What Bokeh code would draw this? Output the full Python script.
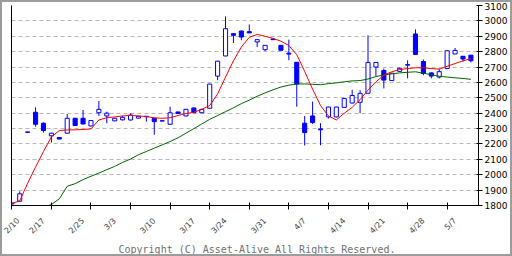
import math
from bokeh.plotting import figure
from bokeh.models import ColumnDataSource, LinearAxis, FixedTicker, Range1d, Title
from bokeh.layouts import column
from bokeh.embed import file_html
from bokeh.resources import INLINE

dates = ["2/10", "2/12", "2/13", "2/14", "2/17", "2/18", "2/19", "2/20", "2/21",
         "2/25", "2/26", "2/27", "2/28", "3/3", "3/4", "3/5", "3/6", "3/7",
         "3/10", "3/11", "3/12", "3/13", "3/14", "3/17", "3/18", "3/19", "3/21",
         "3/24", "3/25", "3/26", "3/27", "3/28", "3/31", "4/1", "4/2", "4/3", "4/4",
         "4/7", "4/8", "4/9", "4/10", "4/11", "4/14", "4/15", "4/16", "4/17", "4/18",
         "4/21", "4/22", "4/23", "4/24", "4/25", "4/28", "4/30", "5/1", "5/2",
         "5/7", "5/8", "5/9"]

opens = [1816, 1828, 2278, 2406, 2335, 2253, 2242, 2270, 2367, 2367,
         2317, 2403, 2382, 2350, 2357, 2356, 2368, 2380, 2367, 2351,
         2328, 2408, 2382, 2434, 2403, 2432, 2641, 2772, 2917, 2934,
         2930, 2863, 2813, 2882, 2841, 2790, 2731, 2335, 2382, 2298,
         2376, 2376, 2438, 2466, 2471, 2530, 2700, 2678, 2612, 2672,
         2712, 2915, 2736, 2662, 2635, 2690, 2785, 2770, 2777]
highs = [1818, 1892, 2280, 2438, 2340, 2272, 2244, 2395, 2370, 2421,
         2355, 2479, 2410, 2370, 2384, 2400, 2382, 2382, 2370, 2352,
         2442, 2410, 2428, 2436, 2428, 2592, 2740, 3029, 2920, 2938,
         2977, 2880, 2843, 2884, 2843, 2878, 2733, 2382, 2475, 2335,
         2442, 2442, 2498, 2552, 2550, 2906, 2732, 2690, 2662, 2695,
         2744, 2945, 2749, 2665, 2690, 2808, 2824, 2772, 2779]
lows = [1808, 1826, 2274, 2313, 2274, 2209, 2230, 2268, 2318, 2327,
        2315, 2382, 2335, 2348, 2352, 2352, 2366, 2345, 2260, 2348,
        2326, 2396, 2380, 2400, 2400, 2430, 2615, 2770, 2856, 2874,
        2920, 2830, 2804, 2876, 2807, 2744, 2442, 2190, 2330, 2192,
        2365, 2374, 2436, 2464, 2400, 2528, 2640, 2561, 2610, 2668,
        2626, 2780, 2647, 2626, 2626, 2688, 2783, 2735, 2730]
closes = [1810, 1876, 2276, 2328, 2287, 2270, 2232, 2367, 2320, 2330,
          2352, 2425, 2400, 2367, 2373, 2388, 2380, 2377, 2345, 2349,
          2403, 2398, 2425, 2403, 2425, 2589, 2738, 2949, 2906, 2895,
          2922, 2878, 2841, 2878, 2809, 2784, 2589, 2274, 2339, 2292,
          2440, 2440, 2496, 2515, 2529, 2730, 2730, 2615, 2660, 2692,
          2716, 2782, 2658, 2641, 2670, 2806, 2808, 2752, 2741]

ma_short = [1813, 1830, 1945, 2050, 2151, 2246, 2287, 2291, 2292, 2294,
            2298, 2356, 2370, 2376, 2382, 2386, 2382, 2378, 2370, 2367,
            2370, 2385, 2398, 2406, 2425, 2450, 2525, 2635, 2740, 2830,
            2893, 2912, 2900, 2886, 2868, 2840, 2780, 2672, 2556, 2450,
            2382, 2356, 2400, 2438, 2488, 2550, 2604, 2647, 2669, 2684,
            2690, 2695, 2695, 2690, 2686, 2705, 2723, 2740, 2755]
ma_long = [1662, 1666, 1677, 1703, 1789, 1806, 1843, 1925, 1942, 1968,
           1990, 2011, 2033, 2054, 2080, 2102, 2130, 2151, 2173, 2194,
           2216, 2240, 2270, 2300, 2330, 2360, 2385, 2410, 2435, 2462,
           2485, 2510, 2532, 2552, 2570, 2582, 2590, 2590, 2588, 2585,
           2592, 2597, 2604, 2610, 2612, 2622, 2638, 2648, 2656, 2662,
           2666, 2669, 2660, 2650, 2640, 2635, 2630, 2626, 2620]

week_labels = ["2/10", "2/17", "2/25", "3/3", "3/10", "3/17", "3/24", "3/31",
               "4/7", "4/14", "4/21", "4/28", "5/7"]
y_ticks = [1800, 1900, 2000, 2100, 2200, 2300, 2400, 2500, 2600, 2700,
           2800, 2900, 3000, 3100]
copyright_text = "Copyright (C) Asset-Alive All Rights Reserved."

BLUE = "#0000ff"
idx = list(range(len(dates)))
up = [c >= o for o, c in zip(opens, closes)]
src = ColumnDataSource(dict(
    x=idx,
    top=[max(o, c) for o, c in zip(opens, closes)],
    bottom=[min(o, c) for o, c in zip(opens, closes)],
    high=highs, low=lows,
    fill=["white" if u else BLUE for u in up],
))

p = figure(width=508, height=252, x_range=Range1d(-0.04, 58.96),
           y_range=Range1d(1800, 3100), output_backend="svg",
           toolbar_location=None, y_axis_location="right",
           min_border_left=9, min_border_right=32, min_border_top=3,
           min_border_bottom=48, background_fill_color="white",
           border_fill_color="white")
p.outline_line_color = None
p.xgrid.visible = False
p.ygrid.ticker = FixedTicker(ticks=y_ticks)
p.ygrid.grid_line_color = "#b8b8b8"
p.ygrid.grid_line_dash = "4 3"

# candles
p.segment(x0="x", y0="low", x1="x", y1="high", source=src, line_color=BLUE, line_width=1)
p.vbar(x="x", width=0.52, top="top", bottom="bottom", source=src,
       fill_color="fill", line_color=BLUE, line_width=1)

# moving averages
p.line(idx, ma_long, line_color="#006400", line_width=1)
p.line(idx, ma_short, line_color="#ff0000", line_width=1)

# right axis
ya = p.yaxis[0]
ya.ticker = FixedTicker(ticks=y_ticks)
ya.major_tick_in = 2
ya.major_tick_out = 4
ya.minor_tick_line_color = None
ya.axis_line_color = "black"
ya.major_label_text_font = "DejaVu Sans"
ya.major_label_text_font_size = "9px"
ya.major_label_text_color = "black"
ya.major_label_standoff = 2

# left axis line only
la = LinearAxis(ticker=FixedTicker(ticks=[]), major_tick_in=0, major_tick_out=0,
                minor_tick_line_color=None, major_label_text_font_size="0px",
                axis_line_color="black", major_label_standoff=0)
p.add_layout(la, "left")

# bottom axis
label_pos = [dates.index(d) for d in week_labels]
xa = p.xaxis[0]
xa.ticker = FixedTicker(ticks=label_pos, minor_ticks=list(range(0, 59, 5)))
xa.major_label_overrides = {pos: lab for pos, lab in zip(label_pos, week_labels)}
xa.major_tick_in = 0
xa.major_tick_out = 0
xa.minor_tick_in = 3
xa.minor_tick_out = 4
xa.minor_tick_line_color = "black"
xa.axis_line_color = "black"
xa.major_label_orientation = math.pi / 4
xa.major_label_text_font = "DejaVu Sans"
xa.major_label_text_font_size = "8px"
xa.major_label_standoff = 10

p.add_layout(Title(text=copyright_text, align="left", offset=107,
                   text_font="DejaVu Sans Mono", text_font_size="10px",
                   text_font_style="normal", text_color="#707070",
                   standoff=0), "below")

layout = column(p, styles={"border": "2px solid #9c9c9c"})
open("out.html", "w").write(file_html(layout, INLINE))
